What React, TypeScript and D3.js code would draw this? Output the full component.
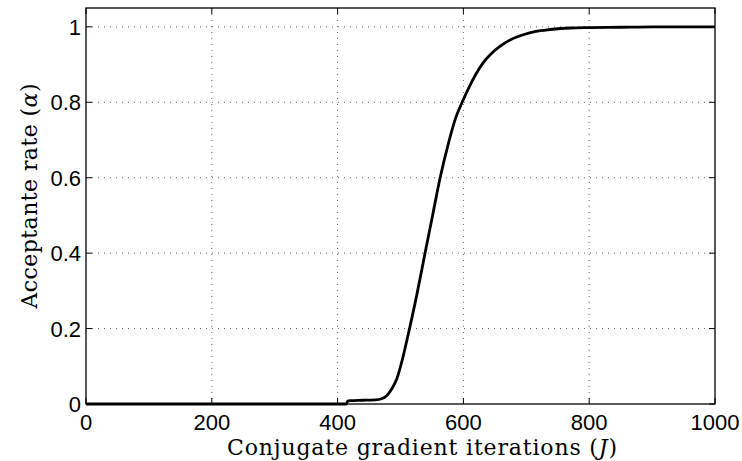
import React from "react";
import * as d3 from "d3";

const iterations = [0, 414, 416, 420, 440, 460, 470, 478, 486, 494, 504, 513, 526, 539, 551, 563, 576, 588, 598, 607, 620, 631, 645, 658, 675, 695, 715, 738, 770, 801, 850, 900, 1000];
const acceptance = [0, 0, 0.008, 0.009, 0.01, 0.011, 0.014, 0.022, 0.04, 0.066, 0.125, 0.19, 0.29, 0.4, 0.5, 0.6, 0.69, 0.76, 0.8, 0.833, 0.875, 0.904, 0.93, 0.948, 0.966, 0.979, 0.988, 0.993, 0.997, 0.998, 0.999, 1.0, 1.0];
const xTicks = [0, 200, 400, 600, 800, 1000];
const yTicks = [0, 0.2, 0.4, 0.6, 0.8, 1];
const yTickLabels = ["0", "0.2", "0.4", "0.6", "0.8", "1"];

const W = 742;
const H = 461;
const left = 86;
const right = 715;
const top = 8;
const bottom = 404;

export default function App() {
  const x = d3.scaleLinear().domain([0, 1000]).range([left, right]);
  const y = d3.scaleLinear().domain([0, 1.05]).range([bottom, top]);
  const pts: [number, number][] = iterations.map((v, i) => [v, acceptance[i]]);
  const line = d3
    .line<[number, number]>()
    .x((d) => x(d[0]))
    .y((d) => y(d[1]))
    .curve(d3.curveMonotoneX);
  const tickLen = 6;
  const sans = "'Liberation Sans', Arial, Helvetica, sans-serif";
  const serif = "'DejaVu Serif', 'Liberation Serif', serif";
  return (
    <svg width={W} height={H} style={{ position: "absolute", left: 0, top: 0, background: "#fff" }}>
      <rect x={0} y={0} width={W} height={H} fill="#fff" />
      {/* grid */}
      {xTicks.slice(1, -1).map((t) => (
        <line key={"gx" + t} x1={x(t)} x2={x(t)} y1={top} y2={bottom} stroke="#666" strokeWidth={1} strokeDasharray="1,5" />
      ))}
      {yTicks.slice(1).map((t) => (
        <line key={"gy" + t} x1={left} x2={right} y1={y(t)} y2={y(t)} stroke="#666" strokeWidth={1} strokeDasharray="1,5" />
      ))}
      {/* ticks */}
      {xTicks.map((t) => (
        <g key={"tx" + t}>
          <line x1={x(t)} x2={x(t)} y1={bottom} y2={bottom - tickLen} stroke="#000" strokeWidth={1} />
          <line x1={x(t)} x2={x(t)} y1={top} y2={top + tickLen} stroke="#000" strokeWidth={1} />
          <text x={x(t)} y={430} textAnchor="middle" fontFamily={sans} fontSize={22} fill="#000">
            {t}
          </text>
        </g>
      ))}
      {yTicks.map((t, i) => (
        <g key={"ty" + t}>
          <line x1={left} x2={left + tickLen} y1={y(t)} y2={y(t)} stroke="#000" strokeWidth={1} />
          <line x1={right} x2={right - tickLen} y1={y(t)} y2={y(t)} stroke="#000" strokeWidth={1} />
          <text x={81} y={y(t) + 8} textAnchor="end" fontFamily={sans} fontSize={22} fill="#000">
            {yTickLabels[i]}
          </text>
        </g>
      ))}
      {/* frame */}
      <rect x={left} y={top} width={right - left} height={bottom - top} fill="none" stroke="#000" strokeWidth={1.3} />
      {/* curve */}
      <path d={line(pts) || ""} fill="none" stroke="#000" strokeWidth={2.8} strokeLinejoin="round" />
      {/* axis labels */}
      <text x={422} y={455} textAnchor="middle" fontFamily={serif} fontSize={22} fill="#000" textLength={390} lengthAdjust="spacing">
        Conjugate gradient iterations (<tspan fontStyle="italic">J</tspan>)
      </text>
      <text
        transform={`translate(37, 196) rotate(-90)`}
        textAnchor="middle"
        fontFamily={serif}
        fontSize={22}
        fill="#000"
        textLength={225}
        lengthAdjust="spacing"
      >
        Acceptante rate (<tspan fontStyle="italic">α</tspan>)
      </text>
    </svg>
  );
}
